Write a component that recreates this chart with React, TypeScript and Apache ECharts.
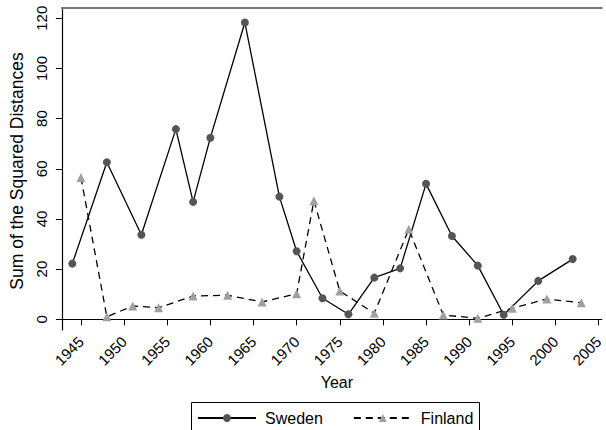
import React, { useEffect, useRef } from "react";
import * as echarts from "echarts";

const swedenYears = [1944, 1948, 1952, 1956, 1958, 1960, 1964, 1968, 1970, 1973, 1976, 1979, 1982, 1985, 1988, 1991, 1994, 1998, 2002];
const swedenValues = [22.2, 62.6, 33.7, 75.8, 46.8, 72.4, 118.3, 48.9, 27.1, 8.4, 2.0, 16.6, 20.3, 54.0, 33.2, 21.4, 1.8, 15.3, 24.0];

const finlandYears = [1945, 1948, 1951, 1954, 1958, 1962, 1966, 1970, 1972, 1975, 1979, 1983, 1987, 1991, 1995, 1999, 2003];
const finlandValues = [56.5, 1.0, 5.3, 4.6, 9.3, 9.6, 6.9, 10.2, 47.3, 11.3, 2.4, 35.9, 1.7, 0.4, 4.4, 8.1, 6.6];

const xTicks = [1945, 1950, 1955, 1960, 1965, 1970, 1975, 1980, 1985, 1990, 1995, 2000, 2005];
const yTicks = [0, 20, 40, 60, 80, 100, 120];

const FONT = "'Liberation Sans', Arial, Helvetica, sans-serif";

export default function App() {
  const ref = useRef<HTMLDivElement>(null);
  useEffect(() => {
    if (!ref.current) return;
    const chart = echarts.init(ref.current, undefined, { renderer: "svg" });
    const zip = (xs: number[], ys: number[]) => xs.map((x, i) => [x, ys[i]]);
    chart.setOption({
      animation: false,
      backgroundColor: "#ffffff",
      textStyle: { fontFamily: FONT },
      grid: { left: 58, top: 8, right: 1, bottom: 100, containLabel: false },
      xAxis: [
        {
          type: "value",
          min: 1942.79,
          max: 2005.37,
          name: "Year",
          nameLocation: "middle",
          nameGap: 38,
          nameTextStyle: { fontFamily: FONT, fontSize: 16, color: "#000", padding: [0, 0, 0, 10] },
          axisLine: { show: true, lineStyle: { color: "#000", width: 1.2 } },
          axisTick: { show: true, length: 6, customValues: xTicks, lineStyle: { color: "#000" } },
          axisLabel: {
            customValues: xTicks,
            rotate: 45,
            margin: 9,
            fontFamily: FONT,
            fontSize: 15,
            color: "#000",
            formatter: (v: number) => String(v),
          },
          splitLine: { show: false },
        },
        {
          type: "value",
          position: "top",
          min: 1942.79,
          max: 2005.37,
          axisLine: { show: true, onZero: false, lineStyle: { color: "#777", width: 2 } },
          axisTick: { show: false },
          axisLabel: { show: false },
          splitLine: { show: false },
        },
      ],
      yAxis: {
        type: "value",
        min: -4.27,
        max: 124.1,
        name: "Sum of the Squared Distances",
        nameLocation: "middle",
        nameGap: 32,
        nameTextStyle: { fontFamily: FONT, fontSize: 17.5, color: "#000", padding: [0, 0, 0, -4] },
        axisLine: { show: true, lineStyle: { color: "#000", width: 1.2 } },
        axisTick: { show: true, length: 6, customValues: yTicks, lineStyle: { color: "#000" } },
        axisLabel: {
          customValues: yTicks,
          rotate: 90,
          margin: 13,
          fontFamily: FONT,
          fontSize: 15,
          color: "#000",
        },
        splitLine: { show: false },
      },
      graphic: [
        {
          type: "rect",
          shape: { x: 191.5, y: 402.5, width: 288, height: 40 },
          style: { fill: "none", stroke: "#000", lineWidth: 1 },
          silent: true,
          z: 10,
        },
      ],
      legend: {
        left: 191,
        top: 402,
        orient: "horizontal",
        padding: [8, 6, 6, 6],
        itemGap: 30,
        itemWidth: 58,
        itemHeight: 10,
        textStyle: { fontFamily: FONT, fontSize: 16, color: "#000", padding: [0, 0, 0, 4] },
        data: ["Sweden", "Finland"],
      },
      series: [
        {
          name: "Sweden",
          type: "line",
          data: zip(swedenYears, swedenValues),
          symbol: "circle",
          symbolSize: 8,
          itemStyle: { color: "#555555" },
          lineStyle: { color: "#000", width: 1.3, type: "solid" },
        },
        {
          name: "Finland",
          type: "line",
          data: zip(finlandYears, finlandValues),
          symbol: "triangle",
          symbolSize: 9,
          itemStyle: { color: "#a0a0a0" },
          lineStyle: { color: "#000", width: 1.3, type: [7, 5] },
        },
      ],
    });
    return () => chart.dispose();
  }, []);
  return <div ref={ref} style={{ position: "absolute", left: 0, top: 0, width: 606, height: 430 }} />;
}
